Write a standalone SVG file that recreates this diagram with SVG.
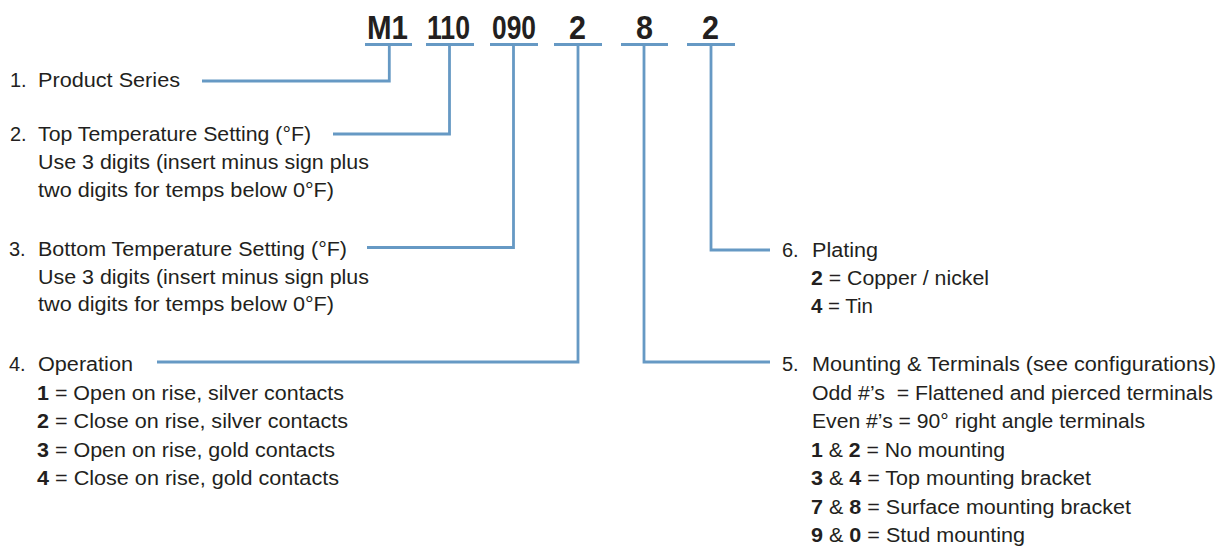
<svg xmlns="http://www.w3.org/2000/svg" width="1225" height="547" viewBox="0 0 1225 547">
<style>
text{font-family:"Liberation Sans",Arial,sans-serif;fill:#231f20;font-size:20px}
.code{font-size:34px;font-weight:bold}
.b{font-weight:bold}
.ln{fill:none;stroke:#6699c4;stroke-width:2.8;stroke-linejoin:miter;stroke-linecap:butt}
</style>
<rect width="1225" height="547" fill="#ffffff"/>
<g id="code">
<text class="code" x="367" y="39" textLength="41" lengthAdjust="spacingAndGlyphs">M1</text>
<text class="code" x="427" y="39" textLength="43" lengthAdjust="spacingAndGlyphs">110</text>
<text class="code" x="492" y="39" textLength="44" lengthAdjust="spacingAndGlyphs">090</text>
<text class="code" x="569" y="39" textLength="17" lengthAdjust="spacingAndGlyphs">2</text>
<text class="code" x="636" y="39" textLength="17" lengthAdjust="spacingAndGlyphs">8</text>
<text class="code" x="702" y="39" textLength="17" lengthAdjust="spacingAndGlyphs">2</text>
</g>
<g id="connectors">
<path class="ln" d="M365,44.5H412M426,44.5H474M490,44.5H538M554,44.5H602M621,44.5H668M687,44.5H735"/>
<path class="ln" d="M389.3,44.5V81H202"/>
<path class="ln" d="M449.5,44.5V134H333"/>
<path class="ln" d="M513.5,44.5V247.5H367"/>
<path class="ln" d="M578,44.5V362H157"/>
<path class="ln" d="M644,44.5V362H770"/>
<path class="ln" d="M711,44.5V250H770"/>
</g>
<g id="n1">
<text x="10" y="87">1.</text>
<text x="38" y="87" textLength="142" lengthAdjust="spacingAndGlyphs">Product Series</text>
</g>
<g id="n2">
<text x="10" y="141">2.</text>
<text x="38" y="141" textLength="273" lengthAdjust="spacingAndGlyphs">Top Temperature Setting (°F)</text>
<text x="38" y="169" textLength="331" lengthAdjust="spacingAndGlyphs">Use 3 digits (insert minus sign plus</text>
<text x="38" y="197" textLength="296" lengthAdjust="spacingAndGlyphs">two digits for temps below 0°F)</text>
</g>
<g id="n3">
<text x="9" y="256">3.</text>
<text x="38" y="256" textLength="309" lengthAdjust="spacingAndGlyphs">Bottom Temperature Setting (°F)</text>
<text x="38" y="283.5" textLength="331" lengthAdjust="spacingAndGlyphs">Use 3 digits (insert minus sign plus</text>
<text x="38" y="311" textLength="296" lengthAdjust="spacingAndGlyphs">two digits for temps below 0°F)</text>
</g>
<g id="n4">
<text x="9" y="371">4.</text>
<text x="38" y="371" textLength="95" lengthAdjust="spacingAndGlyphs">Operation</text>
<text x="37" y="399.5" textLength="307" lengthAdjust="spacingAndGlyphs"><tspan class="b">1</tspan> = Open on rise, silver contacts</text>
<text x="37" y="428" textLength="311" lengthAdjust="spacingAndGlyphs"><tspan class="b">2</tspan> = Close on rise, silver contacts</text>
<text x="37" y="456.5" textLength="298" lengthAdjust="spacingAndGlyphs"><tspan class="b">3</tspan> = Open on rise, gold contacts</text>
<text x="37" y="485" textLength="302" lengthAdjust="spacingAndGlyphs"><tspan class="b">4</tspan> = Close on rise, gold contacts</text>
</g>
<g id="n6">
<text x="782" y="257">6.</text>
<text x="812" y="257" textLength="66" lengthAdjust="spacingAndGlyphs">Plating</text>
<text x="811" y="285" textLength="178" lengthAdjust="spacingAndGlyphs"><tspan class="b">2</tspan> = Copper / nickel</text>
<text x="811" y="313" textLength="62" lengthAdjust="spacingAndGlyphs"><tspan class="b">4</tspan> = Tin</text>
</g>
<g id="n5">
<text x="782" y="371">5.</text>
<text x="812" y="371" textLength="404" lengthAdjust="spacingAndGlyphs">Mounting &amp; Terminals (see configurations)</text>
<text x="812" y="399.5" textLength="401" lengthAdjust="spacingAndGlyphs" xml:space="preserve">Odd #’s  = Flattened and pierced terminals</text>
<text x="812" y="428" textLength="333" lengthAdjust="spacingAndGlyphs">Even #’s = 90° right angle terminals</text>
<text x="811" y="456.5" textLength="194" lengthAdjust="spacingAndGlyphs"><tspan class="b">1</tspan> &amp; <tspan class="b">2</tspan> = No mounting</text>
<text x="811" y="485" textLength="280" lengthAdjust="spacingAndGlyphs"><tspan class="b">3</tspan> &amp; <tspan class="b">4</tspan> = Top mounting bracket</text>
<text x="811" y="513.5" textLength="320" lengthAdjust="spacingAndGlyphs"><tspan class="b">7</tspan> &amp; <tspan class="b">8</tspan> = Surface mounting bracket</text>
<text x="811" y="542" textLength="214" lengthAdjust="spacingAndGlyphs"><tspan class="b">9</tspan> &amp; <tspan class="b">0</tspan> = Stud mounting</text>
</g>
</svg>
